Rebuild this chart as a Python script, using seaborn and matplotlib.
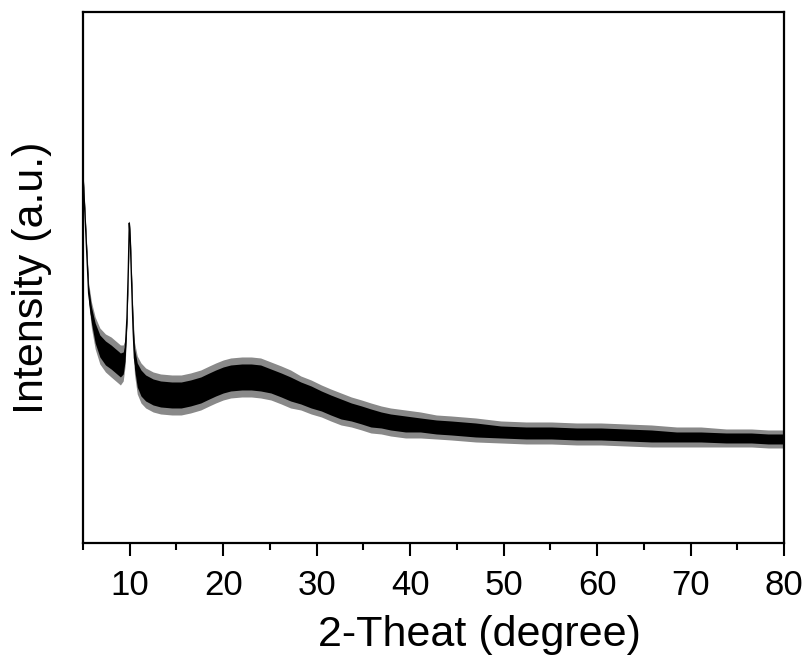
import numpy as np
import pandas as pd
import seaborn as sns
import matplotlib
matplotlib.use("Agg")
import matplotlib.pyplot as plt

# 2-theta positions (degree)
two_theta = [5.0, 5.2, 5.4, 5.6, 5.9, 6.3, 6.8, 7.4, 8.0, 8.5, 9.0, 9.3, 9.5, 9.7,
             9.85, 9.95, 10.05, 10.2, 10.35, 10.5, 10.8, 11.2, 11.7, 12.5, 13.3,
             14.5, 15.5, 16.5, 17.6, 18.5, 19.2, 20.0, 20.8, 22.0, 23.0, 24.0,
             25.1, 26.2, 27.2, 28.3, 29.4, 30.5, 31.5, 32.6, 33.7, 34.8, 35.8,
             36.9, 37.9, 39.5, 41.1, 42.8, 44.4, 47.0, 49.7, 52.4, 55.1, 57.8,
             60.4, 63.1, 65.8, 68.5, 71.1, 73.8, 76.5, 78.3, 80.0]
# mean intensity (a.u.)
intensity = [368, 330, 290, 250, 228, 210, 197, 190, 186, 182, 178, 180, 190, 225,
             275, 320, 305, 260, 215, 185, 168, 160, 155, 151, 149,
             148, 148, 150, 153, 157, 160, 163, 165, 166, 166, 165,
             162, 158, 154, 150, 146, 142, 138, 134, 131, 128, 125,
             123, 121, 119, 118, 116, 115, 113, 111, 110, 110, 109,
             109, 108, 107, 106, 106, 105, 105, 104, 104]
# half-width of the dense noise band (a.u.)
band = [2, 3, 4, 6, 8, 10, 11, 12, 12, 12, 12, 11, 8, 5,
        3, 2, 3, 5, 8, 10, 12, 13, 13, 13, 13,
        13, 13, 13, 13, 13, 13, 13, 13, 13, 13, 13,
        12, 12, 12, 11, 11, 10, 10, 10, 9, 9, 9,
        8, 8, 8, 7, 7, 7, 7, 6, 6, 6, 6,
        6, 6, 6, 5, 5, 5, 5, 5, 5]
# extent of the noise spikes beyond the band (a.u.)
spike = [1, 2, 3, 4, 5, 6, 7, 7, 8, 8, 8, 7, 5, 3,
         2, 1, 2, 3, 5, 6, 7, 7, 7, 7, 7,
         7, 7, 7, 7, 7, 7, 7, 7, 7, 7, 7,
         7, 7, 7, 6, 6, 6, 6, 6, 6, 6, 6,
         6, 6, 6, 6, 5, 5, 5, 5, 5, 5, 5,
         5, 5, 5, 5, 5, 4, 4, 4, 4]

df = pd.DataFrame({"2theta": two_theta, "I": intensity, "band": band, "spike": spike})

sns.set_theme(style="white")
plt.rcParams["font.family"] = ["Liberation Sans", "DejaVu Sans"]

fig = plt.figure(figsize=(8.10, 6.58), dpi=100)
ax = fig.add_axes([0.1025, 0.1748, 0.8655, 0.807])

lo = df["I"] - df["band"]
hi = df["I"] + df["band"]
ax.fill_between(df["2theta"], lo - df["spike"], hi + df["spike"], color="#3a3a3a", alpha=0.6, lw=0)
ax.fill_between(df["2theta"], lo, hi, color="black", lw=0)
sns.lineplot(data=df, x="2theta", y="I", ax=ax, color="black", lw=1.0, estimator=None)

ax.set_xlim(5, 80)
ax.set_ylim(0, 531)
ax.set_xticks([10, 20, 30, 40, 50, 60, 70, 80])
ax.set_xticks([5, 15, 25, 35, 45, 55, 65, 75], minor=True)
ax.set_yticks([])
ax.tick_params(axis="x", which="major", direction="out", length=9, width=1.5,
               labelsize=25, pad=10, color="black", labelcolor="black", bottom=True)
ax.tick_params(axis="x", which="minor", direction="out", length=5, width=1.5,
               color="black", bottom=True)
for s in ax.spines.values():
    s.set_color("black")
    s.set_linewidth(1.6)
    s.set_visible(True)

ax.set_xlabel("2-Theat (degree)", fontsize=31, labelpad=2, color="black")
ax.xaxis.set_label_coords(0.565, -0.135)
ax.set_ylabel("Intensity (a.u.)", fontsize=31, labelpad=22, color="black")

fig.savefig("out.png", dpi=100)
